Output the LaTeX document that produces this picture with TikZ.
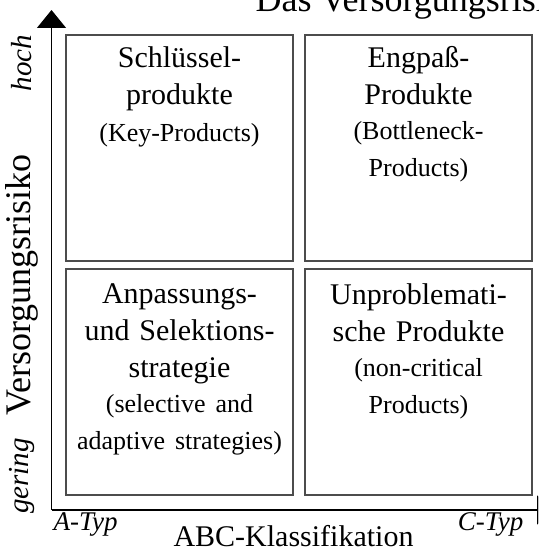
\documentclass[tikz,border=0pt]{standalone}
\usepackage{fontspec}
\setmainfont{Liberation Serif}
\usetikzlibrary{positioning,arrows.meta}

\newcommand\kopffont{\fontsize{30}{37}\selectfont}
\newcommand\klammerfont{\fontsize{26}{35}\selectfont}
\newcommand\achsfont{\fontsize{27}{30}\selectfont\itshape}
\newcommand\stufenfont{\fontsize{29}{32}\selectfont\itshape}

\tikzset{
  feld/.style={draw=black!70, line width=1.3pt, minimum width=227pt, minimum height=226pt, inner sep=0pt},
  inhalt/.style={text width=220pt, align=center, inner sep=0pt, font=\kopffont},
  achse/.style={line width=1.2pt, -{Triangle[width=29pt,length=18pt]}},
}

\begin{document}
\begin{tikzpicture}
		[x=1pt, y=-1pt, node distance=10pt]
		\useasboundingbox (0,0) rectangle (538,548);
		\clip (0,0) rectangle (538,548);
		
		% Achsen
		\coordinate (o) at (51.5,510);
		\coordinate (oben) at (51.5,10);
		\coordinate (rechts) at (555,510);
		\draw[achse] (o) -- (oben);
		\draw[achse] (o) -- (rechts);
		
		% die vier Felder
		\node[feld] (1) at (179.5,148) {};
		\node[feld, right=10.7pt of 1] (2) {};
		\node[feld, below=6.7pt of 1] (3) {};
		\node[feld, right=10.7pt of 3] (4) {};
		
		\node[inhalt, below=12pt of 1.north] (t1) {Schlüssel-\\produkte\\{\klammerfont (Key-Products)}};
		\node[inhalt, below=12pt of 2.north] (t2) {Engpaß-\\Produkte\\{\klammerfont (Bottleneck-\\Products)}};
		\node[inhalt, below=15pt of 3.north] (t3) {Anpassungs-\\und Selektions-\\strategie\\{\klammerfont (selective and\\adaptive strategies)}};
		\node[inhalt, below=15pt of 4.north] (t4) {Unproblemati-\\sche Produkte\\{\klammerfont (non-critical\\Products)}};
		
		% Beschriftung
		\node[anchor=base west, font=\fontsize{36}{40}\selectfont] (titel) at (252,12) {Das Versorgungsrisiko};
		\node[rotate=90, font=\fontsize{36}{40}\selectfont] (risiko) at (22,285) {Versorgungsrisiko};
		\node[rotate=90, font=\stufenfont] (hoch) at (22,63) {hoch};
		\node[rotate=90, font=\stufenfont] (gering) at (22,476) {gering};
		\node[anchor=base, font=\fontsize{30}{36}\selectfont] (abc) at (293.5,546) {ABC-Klassifikation};
		\node[anchor=base west, font=\achsfont] (atyp) at (50,530) {A-Typ};
		\node[anchor=base east, font=\achsfont] (ctyp) at (527,530) {C-Typ};
\end{tikzpicture}
\end{document}
